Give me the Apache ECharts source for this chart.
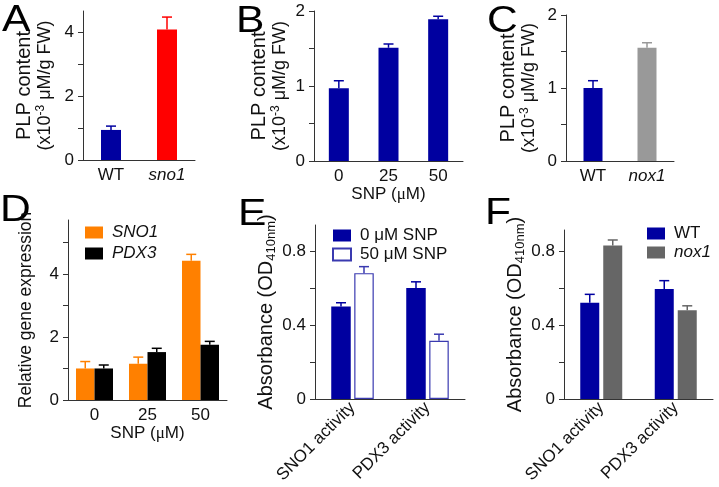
<!DOCTYPE html>
<html>
<head>
<meta charset="utf-8">
<script src="https://cdn.jsdelivr.net/npm/echarts@6/dist/echarts.min.js"></script>
<style>
  html, body { margin: 0; padding: 0; background: #fff; }
  #charts { width: 719px; height: 487px; }
</style>
</head>
<body>
<div id="charts"></div>
<script>
// panel A - PLP content, WT vs sno1
const catA = ['WT', 'sno1'];
const valA = [0.94, 4.08];
const errA = [0.12, 0.39];

// panel B - PLP content vs SNP
const catB = ['0', '25', '50'];
const valB = [0.97, 1.51, 1.89];
const errB = [0.10, 0.05, 0.04];

// panel C - PLP content, WT vs nox1
const catC = ['WT', 'nox1'];
const valC = [1.0, 1.55];
const errC = [0.10, 0.07];

// panel D - relative gene expression
const catD = ['0', '25', '50'];
const sno1D = [1.0, 1.15, 4.42];
const sno1DErr = [0.22, 0.21, 0.20];
const pdx3D = [1.0, 1.52, 1.75];
const pdx3DErr = [0.11, 0.12, 0.11];

// panel E - absorbance with / without SNP
const catE = ['SNO1 activity', 'PDX3 activity'];
const snp0E = [0.50, 0.60];
const snp0EErr = [0.02, 0.033];
const snp50E = [0.68, 0.315];
const snp50EErr = [0.035, 0.035];

// panel F - absorbance WT vs nox1
const catF = ['SNO1 activity', 'PDX3 activity'];
const wtF = [0.52, 0.595];
const wtFErr = [0.046, 0.045];
const nox1F = [0.83, 0.48];
const nox1FErr = [0.03, 0.024];

// tick / label values
const ticksA = [0, 1, 2, 3, 4], labelsA = [0, 2, 4];
const ticksBC = [0, 0.5, 1, 1.5, 2], labelsBC = [0, 1, 2];
const ticksD = [0, 1, 2, 3, 4, 5], labelsD = [0, 2, 4];
const ticksEF = [0, 0.2, 0.4, 0.6, 0.8], labelsEF = [0, 0.4, 0.8];

const FONT = '"Liberation Sans", Arial, sans-serif';
const BLUE = '#0000a0';
const AXIS = '#333';

let myChart = echarts.init(document.getElementById('charts'));

// category x axis
function xCat(grid, data, opt) {
  opt = opt || {};
  return {
    type: 'category',
    gridIndex: grid,
    data: data,
    axisTick: { show: false },
    axisLine: { lineStyle: { color: AXIS, width: 1 } },
    axisLabel: Object.assign({ interval: 0, fontSize: 17, color: '#111', fontFamily: FONT, margin: 7 }, opt.label || {}),
    name: opt.name || '',
    nameLocation: 'middle',
    nameGap: opt.nameGap || 25,
    nameTextStyle: {
      fontSize: 17, color: '#111', fontFamily: FONT,
      rich: {
        t: { fontSize: 17, fontFamily: FONT, color: '#111' },
        mu: { fontSize: 17, fontFamily: '"Liberation Serif", serif', color: '#111' }
      }
    }
  };
}

// value y axis, name is rich text so every piece gets an explicit size
function yVal(grid, max, ticks, labels, name, gap, size) {
  return {
    type: 'value',
    gridIndex: grid,
    min: 0,
    max: max,
    splitLine: { show: false },
    axisLine: { show: true, lineStyle: { color: AXIS, width: 1 } },
    axisTick: { show: true, length: 5, customValues: ticks, lineStyle: { color: AXIS } },
    axisLabel: { customValues: labels, fontSize: 17, color: '#111', fontFamily: FONT, margin: 9 },
    name: name,
    nameLocation: 'middle',
    nameRotate: 90,
    nameGap: gap,
    nameTextStyle: {
      fontSize: size, color: '#111', fontFamily: FONT, lineHeight: 21,
      rich: {
        t: { fontSize: size, fontFamily: FONT, color: '#111', lineHeight: 21 },
        s: { fontSize: 18, fontFamily: FONT, color: '#111', lineHeight: 21 },
        sup: { fontSize: 12, verticalAlign: 'top', fontFamily: FONT, color: '#111', lineHeight: 21 },
        sub: { fontSize: 13, verticalAlign: 'bottom', fontFamily: FONT, color: '#111', lineHeight: 24 }
      }
    }
  };
}

const plpName = '{t|PLP content}\n{s|(x10}{sup|-3}{s| μM/g FW)}';
const absName = '{t|Absorbance (OD}{sub|410nm}{t|)}';
const relName = '{t|Relative gene expression}';

function bar(grid, name, data, color, width, extra) {
  return Object.assign({
    type: 'bar',
    name: name,
    xAxisIndex: grid,
    yAxisIndex: grid,
    data: data,
    barWidth: width,
    itemStyle: { color: color }
  }, extra || {});
}

function errRender(color, offset) {
  return function (params, api) {
    let p0 = api.coord([api.value(0), api.value(1)]);
    let p1 = api.coord([api.value(0), api.value(2)]);
    let x = p0[0] + offset;
    let st = { stroke: color, lineWidth: 1.5 };
    return {
      type: 'group',
      children: [
        { type: 'line', shape: { x1: x, y1: p0[1], x2: x, y2: p1[1] }, style: st },
        { type: 'line', shape: { x1: x - 5, y1: p1[1], x2: x + 5, y2: p1[1] }, style: st }
      ]
    };
  };
}

// error bars, only the upper half shows above the bars
// idx: which categories to draw (default all)
function errBar(grid, vals, errs, color, offset, idx) {
  idx = idx || vals.map((v, i) => i);
  return {
    type: 'custom',
    xAxisIndex: grid,
    yAxisIndex: grid,
    silent: true,
    z: 3,
    encode: { x: 0, y: [1, 2] },
    data: idx.map(i => [i, vals[i], vals[i] + errs[i]]),
    renderItem: errRender(color, offset)
  };
}

const italicLabel = {
  formatter: v => (v === 'WT' ? v : '{i|' + v + '}'),
  rich: { i: { fontStyle: 'italic', fontSize: 17, fontFamily: FONT, color: '#111' } }
};

const legendText = { fontSize: 17, fontFamily: FONT, color: '#111', lineHeight: 17, padding: [0, 0, 0, 4] };

const letters = [['A', 2, 2], ['B', 236, 3], ['C', 487, 3], ['D', 0, 192], ['E', 238, 196], ['F', 485, 195]];

myChart.setOption({
  animation: false,
  grid: [
    { left: 83, top: 11, width: 112, height: 149 },
    { left: 314, top: 11, width: 149, height: 150 },
    { left: 566, top: 15, width: 108, height: 146 },
    { left: 68, top: 220, width: 159, height: 180 },
    { left: 315, top: 225, width: 150, height: 174 },
    { left: 564, top: 230, width: 149, height: 169 }
  ],
  xAxis: [
    xCat(0, catA, { label: italicLabel }),
    xCat(1, catB, { name: '{t|SNP (}{mu|μ}{t|M)}', nameGap: 24 }),
    xCat(2, catC, { label: italicLabel }),
    xCat(3, catD, { name: '{t|SNP (}{mu|μ}{t|M)}', nameGap: 24 }),
    xCat(4, catE, { label: { rotate: 45, margin: 6 } }),
    xCat(5, catF, { label: { rotate: 45, margin: 6 } })
  ],
  yAxis: [
    yVal(0, 4.66, ticksA, labelsA, plpName, 27, 20),
    yVal(1, 2, ticksBC, labelsBC, plpName, 23, 20),
    yVal(2, 2, ticksBC, labelsBC, plpName, 26, 20),
    yVal(3, 5.71, ticksD, labelsD, relName, 31, 17.5),
    yVal(4, 0.94, ticksEF, labelsEF, absName, 37, 20),
    yVal(5, 0.914, ticksEF, labelsEF, absName, 37, 20)
  ],
  legend: [
    {
      data: ['SNO1', 'PDX3'],
      left: 80, top: 219, orient: 'vertical',
      itemWidth: 18, itemHeight: 12, itemGap: 4, icon: 'rect',
      textStyle: Object.assign({}, legendText, { fontStyle: 'italic' })
    },
    {
      data: ['0 μM SNP', '50 μM SNP'],
      left: 327, top: 222, orient: 'vertical',
      itemWidth: 18, itemHeight: 12, itemGap: 2, icon: 'rect',
      textStyle: legendText
    },
    {
      data: [{ name: 'WT' }, { name: 'nox1', textStyle: { fontStyle: 'italic' } }],
      left: 642, top: 220, orient: 'vertical',
      itemWidth: 18, itemHeight: 12, itemGap: 2, icon: 'rect',
      textStyle: legendText
    }
  ],
  graphic: letters.map(l => ({
    type: 'text',
    left: l[1],
    top: l[2],
    scaleX: 1.15,
    style: { text: l[0], font: '37px ' + FONT, fill: '#000' }
  })),
  series: [
    // A
    bar(0, 'A', valA.map((v, i) => ({ value: v, itemStyle: { color: i === 0 ? BLUE : '#ff0000' } })), BLUE, 20),
    errBar(0, valA, errA, BLUE, 0, [0]),
    errBar(0, valA, errA, '#ff0000', 0, [1]),
    // B
    bar(1, 'B', valB, BLUE, 20),
    errBar(1, valB, errB, BLUE, 0),
    // C
    bar(2, 'C', valC.map((v, i) => ({ value: v, itemStyle: { color: i === 0 ? BLUE : '#999999' } })), BLUE, 19),
    errBar(2, valC, errC, BLUE, 0, [0]),
    errBar(2, valC, errC, '#999999', 0, [1]),
    // D
    bar(3, 'SNO1', sno1D, '#ff8000', 18.5, { barGap: '0%' }),
    bar(3, 'PDX3', pdx3D, '#000000', 18.5, { barGap: '0%' }),
    errBar(3, sno1D, sno1DErr, '#ff8000', -9.25),
    errBar(3, pdx3D, pdx3DErr, '#000000', 9.25),
    // E
    bar(4, '0 μM SNP', snp0E, BLUE, 19.5, { barGap: '18%' }),
    bar(4, '50 μM SNP', snp50E, '#ffffff', 19.5, {
      barGap: '18%',
      itemStyle: { color: '#ffffff', borderColor: '#3a3ab0', borderWidth: 1.2 }
    }),
    errBar(4, snp0E, snp0EErr, BLUE, -11.5),
    errBar(4, snp50E, snp50EErr, '#3a3ab0', 11.5),
    // F
    bar(5, 'WT', wtF, BLUE, 19, { barGap: '21%' }),
    bar(5, 'nox1', nox1F, '#666666', 19, { barGap: '21%' }),
    errBar(5, wtF, wtFErr, BLUE, -11.5),
    errBar(5, nox1F, nox1FErr, '#666666', 11.5)
  ]
});
</script>
</body>
</html>
